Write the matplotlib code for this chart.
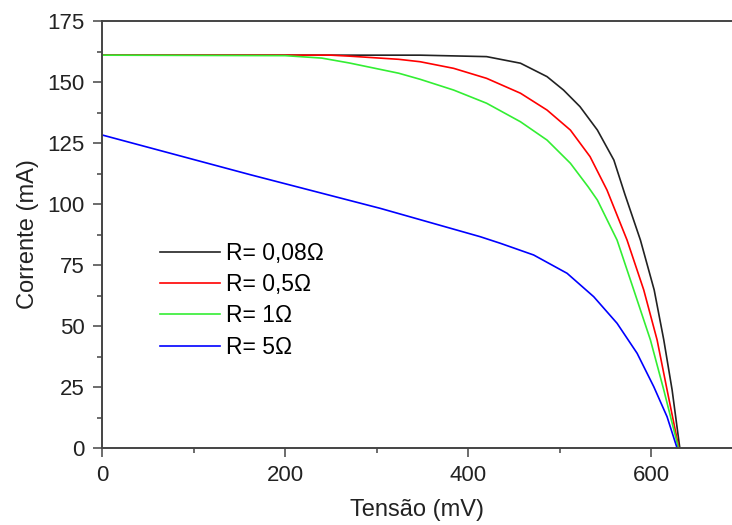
import matplotlib
matplotlib.use("Agg")
import matplotlib.pyplot as plt
from matplotlib.ticker import MultipleLocator

plt.rcParams['font.family'] = ['Liberation Sans', 'DejaVu Sans']

# I-V curves of the cell for each series resistance (tension in mV, current in mA)
v_008 = [0, 200, 300, 347.5, 420, 457, 486, 504, 522, 541, 559, 571, 588, 603, 613.5, 622.6, 631]
i_008 = [161, 161, 161, 161, 160.4, 157.7, 152.2, 146.7, 139.9, 130.3, 118, 104, 85.2, 64.8, 44.3, 23.8, 0]

v_05 = [0, 250, 270, 324, 347.5, 384, 420, 457, 486, 511.5, 533, 551.5, 573.4, 591.6, 606.2, 617.1, 630]
i_05 = [161, 161, 160.6, 159.3, 158.3, 155.6, 151.5, 145.4, 138.5, 130.3, 119.4, 105.7, 85.2, 64.8, 44.3, 23.8, 0]

v_1 = [0, 200, 240, 270, 324, 347.5, 384, 420, 457, 486, 511.5, 531, 541, 562.5, 580.7, 598.9, 613.5, 629.5]
i_1 = [161, 160.8, 159.8, 157.8, 153.6, 151.1, 146.7, 141.3, 133.7, 126.2, 116.7, 107, 101.6, 85.2, 64.8, 44.3, 23.8, 0]

v_5 = [0, 162, 304, 413, 435, 471.4, 507.9, 537, 562.5, 584.4, 602.6, 617.1, 628]
i_5 = [128.3, 112, 98.2, 86.6, 83.9, 79.1, 71.6, 62, 51.1, 38.8, 25.1, 12.8, 0]

labels = ['R= 0,08Ω', 'R= 0,5Ω', 'R= 1Ω', 'R= 5Ω']
colors = ['#222222', '#ff0000', '#33ee33', '#0000ff']

fig = plt.figure(figsize=(7.32, 5.25), dpi=100)
ax = fig.add_axes([102 / 732, 1 - 448 / 525, 1 - 102 / 732, (448 - 21) / 525])

series = [(v_008, i_008), (v_05, i_05), (v_1, i_1), (v_5, i_5)]
for (v, i), lab, c in zip(series, labels, colors):
    ax.plot(v, i, color=c, lw=1.2, label=lab)

ax.set_xlim(0, 688)
ax.set_ylim(0, 175)
ax.xaxis.set_major_locator(MultipleLocator(200))
ax.xaxis.set_minor_locator(MultipleLocator(100))
ax.yaxis.set_major_locator(MultipleLocator(25))
ax.yaxis.set_minor_locator(MultipleLocator(12.5))

spine_c = '#444444'
ax.spines['right'].set_visible(False)
for s in ['left', 'bottom', 'top']:
    ax.spines[s].set_color(spine_c)
    ax.spines[s].set_linewidth(1.4)

ax.tick_params(which='major', direction='out', length=6.5, width=1.1,
               color=spine_c, labelsize=16, labelcolor='#222222', pad=6)
ax.tick_params(which='minor', direction='out', length=3.5, width=1.1, color=spine_c)
ax.tick_params(top=False, right=False, which='both')

ax.set_xlabel('Tensão (mV)', fontsize=17, color='#222222', labelpad=9)
ax.set_ylabel('Corrente (mA)', fontsize=17, color='#222222', labelpad=6)

ax.legend(loc='upper left', bbox_to_anchor=(160 / 732, 1 - 242 / 525),
          bbox_transform=fig.transFigure, frameon=False, fontsize=16.5,
          handlelength=2.62, handletextpad=0.26, labelspacing=0.36,
          borderpad=0, borderaxespad=0)

fig.savefig('out.png', dpi=100)
